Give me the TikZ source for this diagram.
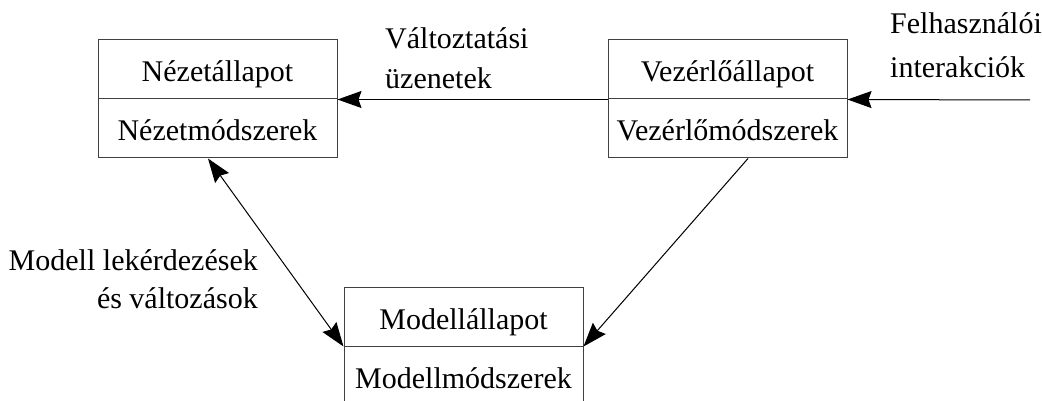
\documentclass[tikz,border=0pt]{standalone}
\usepackage{fontspec}
\setmainfont{Liberation Serif}
\usetikzlibrary{arrows.meta,calc}

\tikzset{
  lbl/.style={inner sep=0pt, font=\fontsize{30}{40}\selectfont},
  part/.style={draw=black!75, line width=1pt, minimum width=239pt, minimum height=59pt,
    inner sep=0pt, text height=28pt, text depth=3pt, font=\fontsize{30}{36}\selectfont},
  tip/.style={Stealth[length=24pt, width=17pt, inset=3pt]},
  arr/.style={draw=black, line width=1pt, -{Stealth[length=24pt, width=17pt, inset=3pt]}},
  dbl/.style={draw=black, line width=1pt, {Stealth[length=24pt, width=17pt, inset=3pt]}-{Stealth[length=24pt, width=17pt, inset=3pt]}}
}

\begin{document}
\begin{tikzpicture}[x=1pt, y=-1pt]
  \useasboundingbox (0,0) rectangle (1042,401);

  % view
  \node[part] (nezA) at (217.5,69.5) {Nézetállapot};
  \node[part] (nezB) at (217.5,128.5) {Nézetmódszerek};
  % controller
  \node[part] (vezA) at (727.5,69.5) {Vezérlőállapot};
  \node[part] (vezB) at (727.5,128.5) {Vezérlőmódszerek};
  % model
  \node[part] (modA) at (463.5,316.5) {Modellállapot};
  \node[part] (modB) at (463.5,375.5) {Modellmódszerek};

  % labels
  \node[lbl, align=left, anchor=north west] (uzenet) at (385,27.5) {Változtatási\\üzenetek};
  \node[lbl, align=left, anchor=north west, font=\fontsize{30}{44}\selectfont] (felh) at (890,12.5) {Felhasználói\\interakciók};
  \node[lbl, align=right, anchor=north east, font=\fontsize{30}{38}\selectfont] (lekerd) at (258,249.5) {Modell lekérdezések\\és változások};

  % connectors
  \coordinate (user) at (1030,100);
  \draw[arr] (vezA.south west) -- (nezA.south east);
  \draw[arr] (user) -- (vezA.south east);
  \draw[dbl] ([xshift=-9.5pt]nezB.south) -- (modA.south west);
  \draw[arr] ([xshift=20.5pt]vezB.south) -- (modA.south east);
\end{tikzpicture}
\end{document}
